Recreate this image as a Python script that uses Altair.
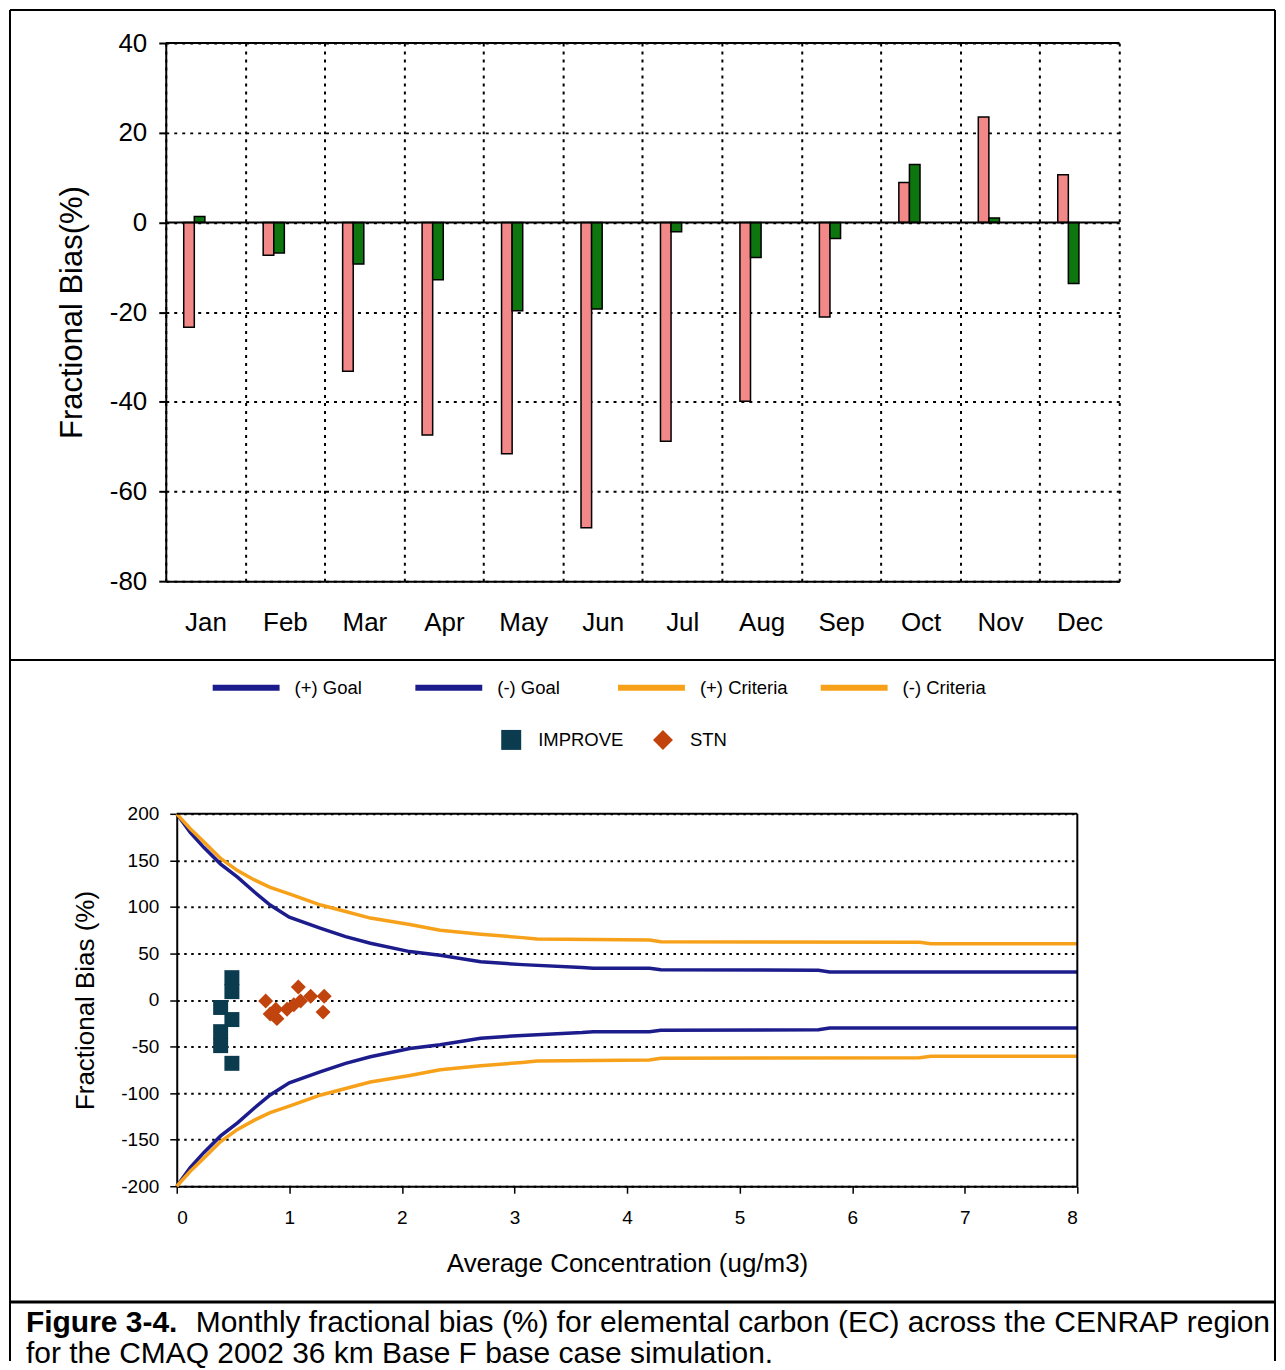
import altair as alt
import pandas as pd

# ---------------- data ----------------
months = ["Jan", "Feb", "Mar", "Apr", "May", "Jun", "Jul", "Aug", "Sep", "Oct", "Nov", "Dec"]
fb_pink = [-23.4, -7.3, -33.2, -47.4, -51.6, -68.1, -48.8, -39.9, -21.1, 8.9, 23.5, 10.6]
fb_green = [1.3, -6.8, -9.3, -12.8, -19.7, -19.3, -2.1, -7.8, -3.6, 12.9, 1.0, -13.6]
bar_series = ["IMPROVE", "STN"]

goal_x = [0, 0.12, 0.24, 0.39, 0.54, 0.69, 0.83, 1.0, 1.28, 1.5, 1.72, 2.07, 2.34, 2.7, 3.07, 3.6, 3.7, 4.2, 4.3, 5.7, 5.8, 8.0]
goal_pos = [200, 180, 164, 146, 132, 116, 102, 89, 77, 68, 61, 52, 48, 41, 38, 35, 34, 34, 32.5, 32, 30, 30]
goal_neg = [-200, -180, -164, -146, -132, -116, -102, -89, -77, -68, -61, -52, -48, -41, -38, -35, -34, -34, -32.5, -32, -30, -30]
crit_x = [0, 0.12, 0.24, 0.39, 0.54, 0.69, 0.83, 1.0, 1.28, 1.5, 1.72, 2.07, 2.34, 2.7, 3.07, 3.2, 4.2, 4.3, 6.6, 6.7, 8.0]
crit_pos = [200, 184, 170, 152, 139, 129, 121, 114, 102, 95, 88, 81, 75, 70.7, 67, 65.5, 64.5, 62.5, 62, 60.5, 60.5]
crit_neg = [-200, -184, -170, -152, -139, -129, -121, -114, -102, -95, -88, -81, -75, -70.7, -67, -65.5, -64.5, -62.5, -62, -60.5, -60.5]
line_names = ["(+) Goal", "(-) Goal", "(+) Criteria", "(-) Criteria"]

improve_x = [0.49, 0.49, 0.39, 0.49, 0.39, 0.39, 0.49]
improve_y = [24, 9, -8, -21, -34, -49, -68]
stn_x = [0.79, 0.83, 0.88, 0.89, 0.98, 1.04, 1.08, 1.10, 1.19, 1.31, 1.30]
stn_y = [-1, -15, -10, -20, -10, -5, 14, -1, 4, 4, -13]
networks = ["IMPROVE", "STN"]

caption_bold = "Figure 3-4."
caption_line1 = "Monthly fractional bias (%) for elemental carbon (EC) across the CENRAP region"
caption_line2 = "for the CMAQ 2002 36 km Base F base case simulation."

# ---------------- styles ----------------
FONT_TOP = "Liberation Sans, Arial, Helvetica, sans-serif"
FONT_BOT = "Liberation Sans Narrow, Arial Narrow, Liberation Sans, Arial, sans-serif"
PINK = "#f28888"
GREEN = "#0e760e"
NAVY = "#1c1c8c"
ORANGE = "#f7a11a"
IMP_COLOR = "#0b3b4e"
STN_COLOR = "#c1440e"
PLAIN = "'' + datum.value"

one = pd.DataFrame({"a": [0]})

def vline(x, y1, y2, w=2):
    return alt.Chart(one).mark_rule(color="black", strokeWidth=w).encode(
        x=alt.value(x), y=alt.value(y1), y2=alt.value(y2))

def hline(y, x1, x2, w=2):
    return alt.Chart(one).mark_rule(color="black", strokeWidth=w).encode(
        y=alt.value(y), x=alt.value(x1), x2=alt.value(x2))

# ---------------- top chart ----------------
W1, H1 = 955, 539
bars_df = pd.DataFrame({
    "month": months * 2,
    "series": [bar_series[0]] * 12 + [bar_series[1]] * 12,
    "fb": fb_pink + fb_green,
})

bars = alt.Chart(bars_df).mark_bar(stroke="black", strokeWidth=1.5).encode(
    x=alt.X("month:N", sort=months,
            scale=alt.Scale(paddingInner=0, paddingOuter=0),
            axis=alt.Axis(title=None, tickBand="extent", ticks=False, grid=True,
                          gridDash=[3, 5], gridColor="black", gridWidth=2, gridOpacity=1,
                          labelFont=FONT_TOP, labelFontSize=26, labelColor="black",
                          labelPadding=28, labelAngle=0, domainColor="black", domainWidth=2)),
    xOffset=alt.XOffset("series:N", sort=bar_series,
                        scale=alt.Scale(paddingInner=0, paddingOuter=0, range=[18, 39.2])),
    y=alt.Y("fb:Q", stack=None,
            scale=alt.Scale(domain=[-80, 40], nice=False, zero=False),
            axis=alt.Axis(values=[-80, -60, -40, -20, 0, 20, 40], title="Fractional Bias(%)",
                          labelExpr=PLAIN,
                          titleFont=FONT_TOP, titleFontSize=31, titleFontWeight="normal",
                          titleColor="black", titlePadding=21,
                          labelFont=FONT_TOP, labelFontSize=26, labelColor="black",
                          labelPadding=12, tickSize=7, tickColor="black", tickWidth=2,
                          domainColor="black", domainWidth=2, grid=True,
                          gridDash=[3, 5], gridColor="black", gridWidth=2, gridOpacity=1)),
    color=alt.Color("series:N", scale=alt.Scale(domain=bar_series, range=[PINK, GREEN]), legend=None),
)

zero_line = alt.Chart(one).mark_rule(color="black", strokeWidth=2).encode(y=alt.datum(0))
top_line = alt.Chart(one).mark_rule(color="black", strokeWidth=2).encode(y=alt.datum(40))

top = alt.layer(
    bars, zero_line, top_line,
    vline(-156, -33, 618), vline(1111, -33, 618), hline(-33, -156, 1111),
).properties(width=W1, height=H1)

# ---------------- bottom chart ----------------
W2, H2 = 913, 373
lines_df = pd.DataFrame({
    "conc": goal_x + goal_x + crit_x + crit_x,
    "fb": goal_pos + goal_neg + crit_pos + crit_neg,
    "series": [line_names[0]] * len(goal_x) + [line_names[1]] * len(goal_x)
              + [line_names[2]] * len(crit_x) + [line_names[3]] * len(crit_x),
})
pts_df = pd.DataFrame({
    "conc": improve_x + stn_x,
    "fb": improve_y + stn_y,
    "network": [networks[0]] * len(improve_x) + [networks[1]] * len(stn_x),
})

xs = alt.Scale(domain=[0, 8], range=[11, W2], nice=False, zero=False)
ys = alt.Scale(domain=[-200, 200], nice=False, zero=False)

lines = alt.Chart(lines_df).mark_line(strokeWidth=3.5).encode(
    x=alt.X("conc:Q", scale=xs,
            axis=alt.Axis(values=list(range(9)), title="Average Concentration (ug/m3)",
                          labelExpr=PLAIN,
                          titleFont=FONT_BOT, titleFontSize=26, titleFontWeight="normal",
                          titleColor="black", titlePadding=23, grid=False,
                          labelFont=FONT_BOT, labelFontSize=19, labelColor="black",
                          labelPadding=15, tickSize=7, tickColor="black", tickWidth=1.5,
                          domainColor="black", domainWidth=2)),
    y=alt.Y("fb:Q", scale=ys,
            axis=alt.Axis(values=[-200, -150, -100, -50, 0, 50, 100, 150, 200], offset=-11,
                          labelExpr=PLAIN,
                          title="Fractional Bias (%)", titleFont=FONT_BOT, titleFontSize=26,
                          titleFontWeight="normal", titleColor="black", titlePadding=22,
                          labelFont=FONT_BOT, labelFontSize=19, labelColor="black",
                          labelPadding=11, tickSize=7, tickColor="black", tickWidth=1.5,
                          domainColor="black", domainWidth=2, grid=True,
                          gridDash=[2.5, 4.5], gridColor="black", gridWidth=2, gridOpacity=1)),
    stroke=alt.Stroke("series:N", sort=line_names,
                      scale=alt.Scale(domain=line_names, range=[NAVY, NAVY, ORANGE, ORANGE]),
                      legend=alt.Legend(title=None, orient="none", legendX=44, legendY=-163,
                                        direction="horizontal", columns=4, symbolType="stroke",
                                        symbolSize=4489, symbolStrokeWidth=6, labelOffset=12,
                                        columnPadding=21, gridAlign="all", padding=0,
                                        labelFont=FONT_BOT, labelFontSize=18.5, labelColor="black")),
)

pt_legend = dict(title=None, orient="none", legendX=335, legendY=-85, direction="horizontal",
                 symbolSize=400, labelOffset=16, columnPadding=28, padding=0,
                 labelFont=FONT_BOT, labelFontSize=18.5, labelColor="black")
points = alt.Chart(pts_df).mark_point(filled=True, opacity=1, size=225, strokeWidth=0).encode(
    x=alt.X("conc:Q", scale=xs),
    y=alt.Y("fb:Q", scale=ys),
    color=alt.Color("network:N", sort=networks,
                    scale=alt.Scale(domain=networks, range=[IMP_COLOR, STN_COLOR]),
                    legend=alt.Legend(**pt_legend)),
    shape=alt.Shape("network:N", sort=networks,
                    scale=alt.Scale(domain=networks, range=["square", "diamond"]),
                    legend=alt.Legend(**pt_legend)),
)

box_top = alt.Chart(one).mark_rule(color="black", strokeWidth=2).encode(
    x=alt.datum(0), x2=alt.datum(8), y=alt.datum(200))
box_right = alt.Chart(one).mark_rule(color="black", strokeWidth=2).encode(
    x=alt.datum(8), y=alt.datum(-200), y2=alt.datum(200))

def caption(txt, x, y, bold=False):
    return alt.Chart(one).mark_text(text=txt, font=FONT_TOP, fontSize=30,
                                    fontWeight="bold" if bold else "normal",
                                    align="left", baseline="alphabetic", color="black").encode(
        x=alt.value(x), y=alt.value(y))

bottom = alt.layer(
    lines, points, box_top, box_right,
    vline(-156, -154, 548), vline(1111, -154, 548),
    hline(-154, -156, 1111), hline(489, -156, 1111, 3),
    caption(caption_bold, -140, 519, True),
    caption(caption_line1, 30, 519),
    caption(caption_line2, -140, 550),
).properties(width=W2, height=H2)

chart = alt.vconcat(top, bottom, spacing=233, bounds="flush").properties(
    padding=0, background="white"
).configure_view(stroke=None).resolve_scale(
    color="independent", stroke="independent", shape="independent",
    x="independent", y="independent")

chart.save("out.html", embed_options={"renderer": "svg", "actions": False})
